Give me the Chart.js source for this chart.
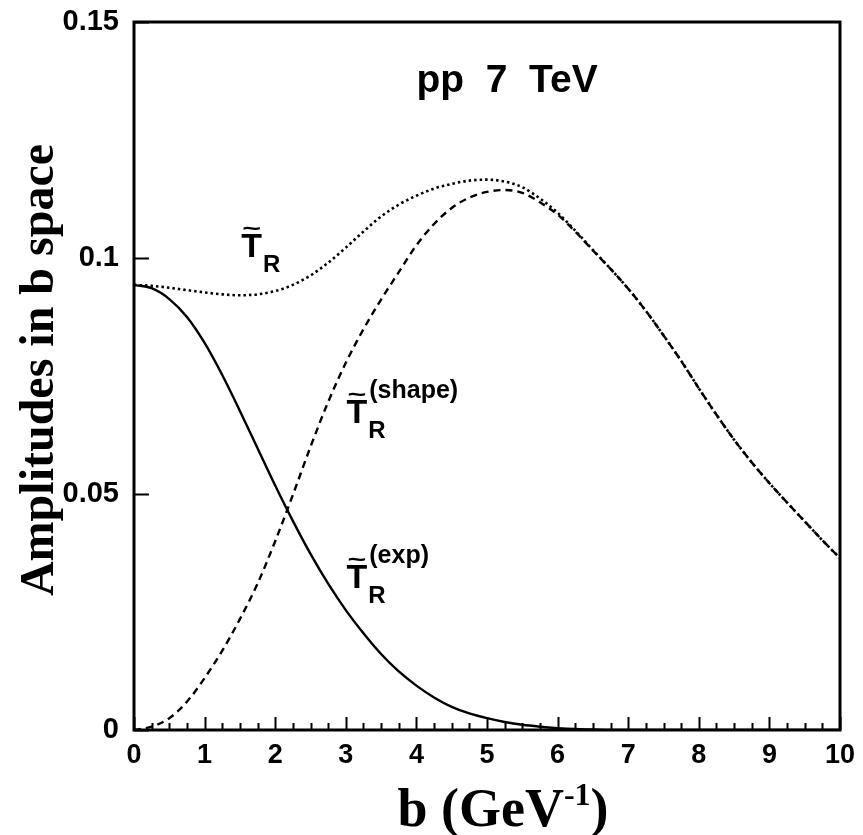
<!DOCTYPE html>
<html>
<head>
<meta charset="utf-8">
<script src="https://cdn.jsdelivr.net/npm/chart.js@4.4.1/dist/chart.umd.min.js"></script>
<style>
  html, body { margin: 0; padding: 0; background: #fff; }
  canvas { display: block; }
</style>
</head>
<body>
<canvas id="c" width="863" height="835"></canvas>
<script>
// impact parameter b (GeV^-1)
const bValues = [0, 0.25, 0.5, 0.75, 1, 1.25, 1.5, 1.75, 2, 2.25, 2.5, 2.75, 3, 3.25, 3.5, 3.75,
  4, 4.25, 4.5, 4.75, 5, 5.25, 5.5, 5.75, 6, 6.25, 6.5, 6.75, 7, 7.25, 7.5, 7.75,
  8, 8.25, 8.5, 8.75, 9, 9.25, 9.5, 9.75, 10];

// T_R^(exp) : solid
const expAmp = [0.0943, 0.0936, 0.0913, 0.0875, 0.0820, 0.0752, 0.0676, 0.0597, 0.0518, 0.0443, 0.0373, 0.0310,
  0.0254, 0.0205, 0.0161, 0.0124, 0.0094, 0.0069, 0.0049, 0.0035, 0.0025, 0.0017, 0.0011, 0.0007,
  0.0004, 0.0002, 0.0001, 0, 0, 0, 0, 0, 0, 0, 0, 0, 0, 0, 0, 0, 0];

// T_R^(shape) : dashed
const shapeAmp = [0, 0.0007, 0.0025, 0.0060, 0.0110, 0.0168, 0.0235, 0.0310, 0.0400, 0.0498, 0.0600, 0.0695,
  0.0778, 0.0849, 0.0912, 0.0970, 0.1027, 0.1072, 0.1106, 0.1128, 0.1140, 0.1144, 0.1138, 0.1118,
  0.1092, 0.1056, 0.1016, 0.0977, 0.0935, 0.0888, 0.0836, 0.0782, 0.0724, 0.0668, 0.0615, 0.0567,
  0.0523, 0.0482, 0.0442, 0.0402, 0.0364];

// T_R total : dotted
const totalAmp = [0.0943, 0.0941, 0.0937, 0.0932, 0.0927, 0.0923, 0.0921, 0.0923, 0.0930, 0.0943, 0.0963, 0.0990,
  0.1022, 0.1056, 0.1088, 0.1113, 0.1132, 0.1147, 0.1157, 0.1164, 0.1166, 0.1162, 0.1150, 0.1126,
  0.1096, 0.1058, 0.1017, 0.0977, 0.0935, 0.0888, 0.0836, 0.0782, 0.0724, 0.0668, 0.0615, 0.0567,
  0.0523, 0.0482, 0.0442, 0.0402, 0.0364];

// axis ticks
const xTickValues = [0, 1, 2, 3, 4, 5, 6, 7, 8, 9, 10];
const xTickLabels = ['0', '1', '2', '3', '4', '5', '6', '7', '8', '9', '10'];
const yTickValues = [0, 0.05, 0.1, 0.15];
const yTickLabels = ['0', '0.05', '0.1', '0.15'];

const SANS = '"Liberation Sans", Arial, Helvetica, sans-serif';
const SERIF = '"Liberation Serif", "Times New Roman", serif';

function series(ys) {
  return bValues.map((b, i) => ({ x: b, y: ys[i] }));
}

// curve labels, anchored in data coordinates
const curveLabels = [
  { b: 1.52, v: 0.1002, sup: '' },
  { b: 3.01, v: 0.0650, sup: '(shape)' },
  { b: 3.01, v: 0.0301, sup: '(exp)' }
];

function drawAmpLabel(ctx, x, y, sup) {
  ctx.fillStyle = '#000';
  ctx.textAlign = 'left';
  ctx.textBaseline = 'alphabetic';
  ctx.font = 'bold 34px ' + SANS;
  ctx.fillText('T', x, y);
  const wT = ctx.measureText('T').width;
  // tilde over the T
  ctx.save();
  ctx.translate(x + wT / 2, y - 21);
  ctx.scale(1.15, 0.8);
  ctx.textAlign = 'center';
  ctx.font = 'bold 28px ' + SANS;
  ctx.fillText('~', 0, 0);
  ctx.restore();
  ctx.textAlign = 'left';
  ctx.font = 'bold 24px ' + SANS;
  ctx.fillText('R', x + wT + 1, y + 15);
  if (sup) {
    ctx.font = 'bold 25px ' + SANS;
    ctx.fillText(sup, x + wT + 2, y - 25);
  }
}

const decorations = {
  id: 'decorations',
  afterDraw(chart) {
    const ctx = chart.ctx;
    const a = chart.chartArea;
    const xs = chart.scales.x;
    const ys = chart.scales.y;
    ctx.save();
    ctx.strokeStyle = '#000';

    // inward tick marks
    ctx.lineWidth = 2;
    ctx.beginPath();
    for (let v = xs.min; v <= xs.max + 1e-9; v += 0.25) {
      const px = Math.round(xs.getPixelForValue(v)) + 0.5;
      const major = Math.abs(v - Math.round(v)) < 1e-9;
      const len = major ? 13 : 7;
      ctx.moveTo(px, a.bottom);
      ctx.lineTo(px, a.bottom - len);
    }
    ys.ticks.forEach(t => {
      const py = Math.round(ys.getPixelForValue(t.value)) + 0.5;
      ctx.moveTo(a.left, py);
      ctx.lineTo(a.left + 15, py);
    });
    ctx.stroke();

    // frame
    ctx.lineWidth = 3;
    ctx.strokeRect(a.left, a.top, a.right - a.left, a.bottom - a.top);

    // curve labels
    curveLabels.forEach(l => {
      drawAmpLabel(ctx, xs.getPixelForValue(l.b), ys.getPixelForValue(l.v), l.sup);
    });

    // energy label
    ctx.fillStyle = '#000';
    ctx.textAlign = 'left';
    ctx.textBaseline = 'alphabetic';
    ctx.font = 'bold 39px ' + SANS;
    ctx.fillText('pp  7  TeV', xs.getPixelForValue(4.0), ys.getPixelForValue(0.1352));

    // y axis title
    ctx.save();
    ctx.translate(53, (a.top + a.bottom) / 2 - 6);
    ctx.rotate(-Math.PI / 2);
    ctx.textAlign = 'center';
    ctx.font = 'bold 48px ' + SERIF;
    ctx.fillText('Amplitudes in b space', 0, 0);
    ctx.restore();

    // x axis title with superscript
    const main = 'b (GeV';
    const sup = '-1';
    const close = ')';
    ctx.font = 'bold 54px ' + SERIF;
    const w1 = ctx.measureText(main).width;
    const w3 = ctx.measureText(close).width;
    ctx.font = 'bold 32px ' + SERIF;
    const w2 = ctx.measureText(sup).width;
    const total = w1 + w2 + w3;
    const x0 = 503 - total / 2;
    const base = 826;
    ctx.textAlign = 'left';
    ctx.font = 'bold 54px ' + SERIF;
    ctx.fillText(main, x0, base);
    ctx.font = 'bold 32px ' + SERIF;
    ctx.fillText(sup, x0 + w1, base - 21);
    ctx.font = 'bold 54px ' + SERIF;
    ctx.fillText(close, x0 + w1 + w2, base);
    ctx.restore();
  }
};

const common = {
  borderColor: '#000',
  pointRadius: 0,
  pointHoverRadius: 0,
  fill: false,
  cubicInterpolationMode: 'monotone',
  borderCapStyle: 'butt'
};

new Chart(document.getElementById('c'), {
  type: 'line',
  data: {
    datasets: [
      Object.assign({ label: 'total', data: series(totalAmp), borderWidth: 2.6, borderDash: [2.5, 3] }, common),
      Object.assign({ label: 'shape', data: series(shapeAmp), borderWidth: 2.4, borderDash: [7, 5] }, common),
      Object.assign({ label: 'exp', data: series(expAmp), borderWidth: 2.4 }, common)
    ]
  },
  options: {
    responsive: false,
    devicePixelRatio: 1,
    animation: false,
    events: [],
    layout: { padding: { top: 22, right: 23, left: 0, bottom: 0 } },
    plugins: { legend: { display: false }, tooltip: { enabled: false } },
    scales: {
      x: {
        type: 'linear',
        min: 0,
        max: 10,
        afterBuildTicks(scale) { scale.ticks = xTickValues.map(v => ({ value: v })); },
        afterFit(scale) { scale.height = 105; scale.paddingLeft = 0; scale.paddingRight = 0; },
        ticks: {
          color: '#000',
          font: { family: SANS, size: 27, weight: 'bold' },
          padding: 9,
          maxRotation: 0,
          autoSkip: false,
          callback: (v, i) => xTickLabels[i]
        },
        grid: { display: false, drawTicks: false },
        border: { display: false }
      },
      y: {
        type: 'linear',
        min: 0,
        max: 0.15,
        afterBuildTicks(scale) { scale.ticks = yTickValues.map(v => ({ value: v })); },
        afterFit(scale) { scale.width = 134; scale.paddingTop = 0; scale.paddingBottom = 0; },
        ticks: {
          color: '#000',
          font: { family: SANS, size: 29, weight: 'bold' },
          padding: 15,
          autoSkip: false,
          callback: (v, i) => yTickLabels[i]
        },
        grid: { display: false, drawTicks: false },
        border: { display: false }
      }
    }
  },
  plugins: [decorations]
});
</script>
</body>
</html>
